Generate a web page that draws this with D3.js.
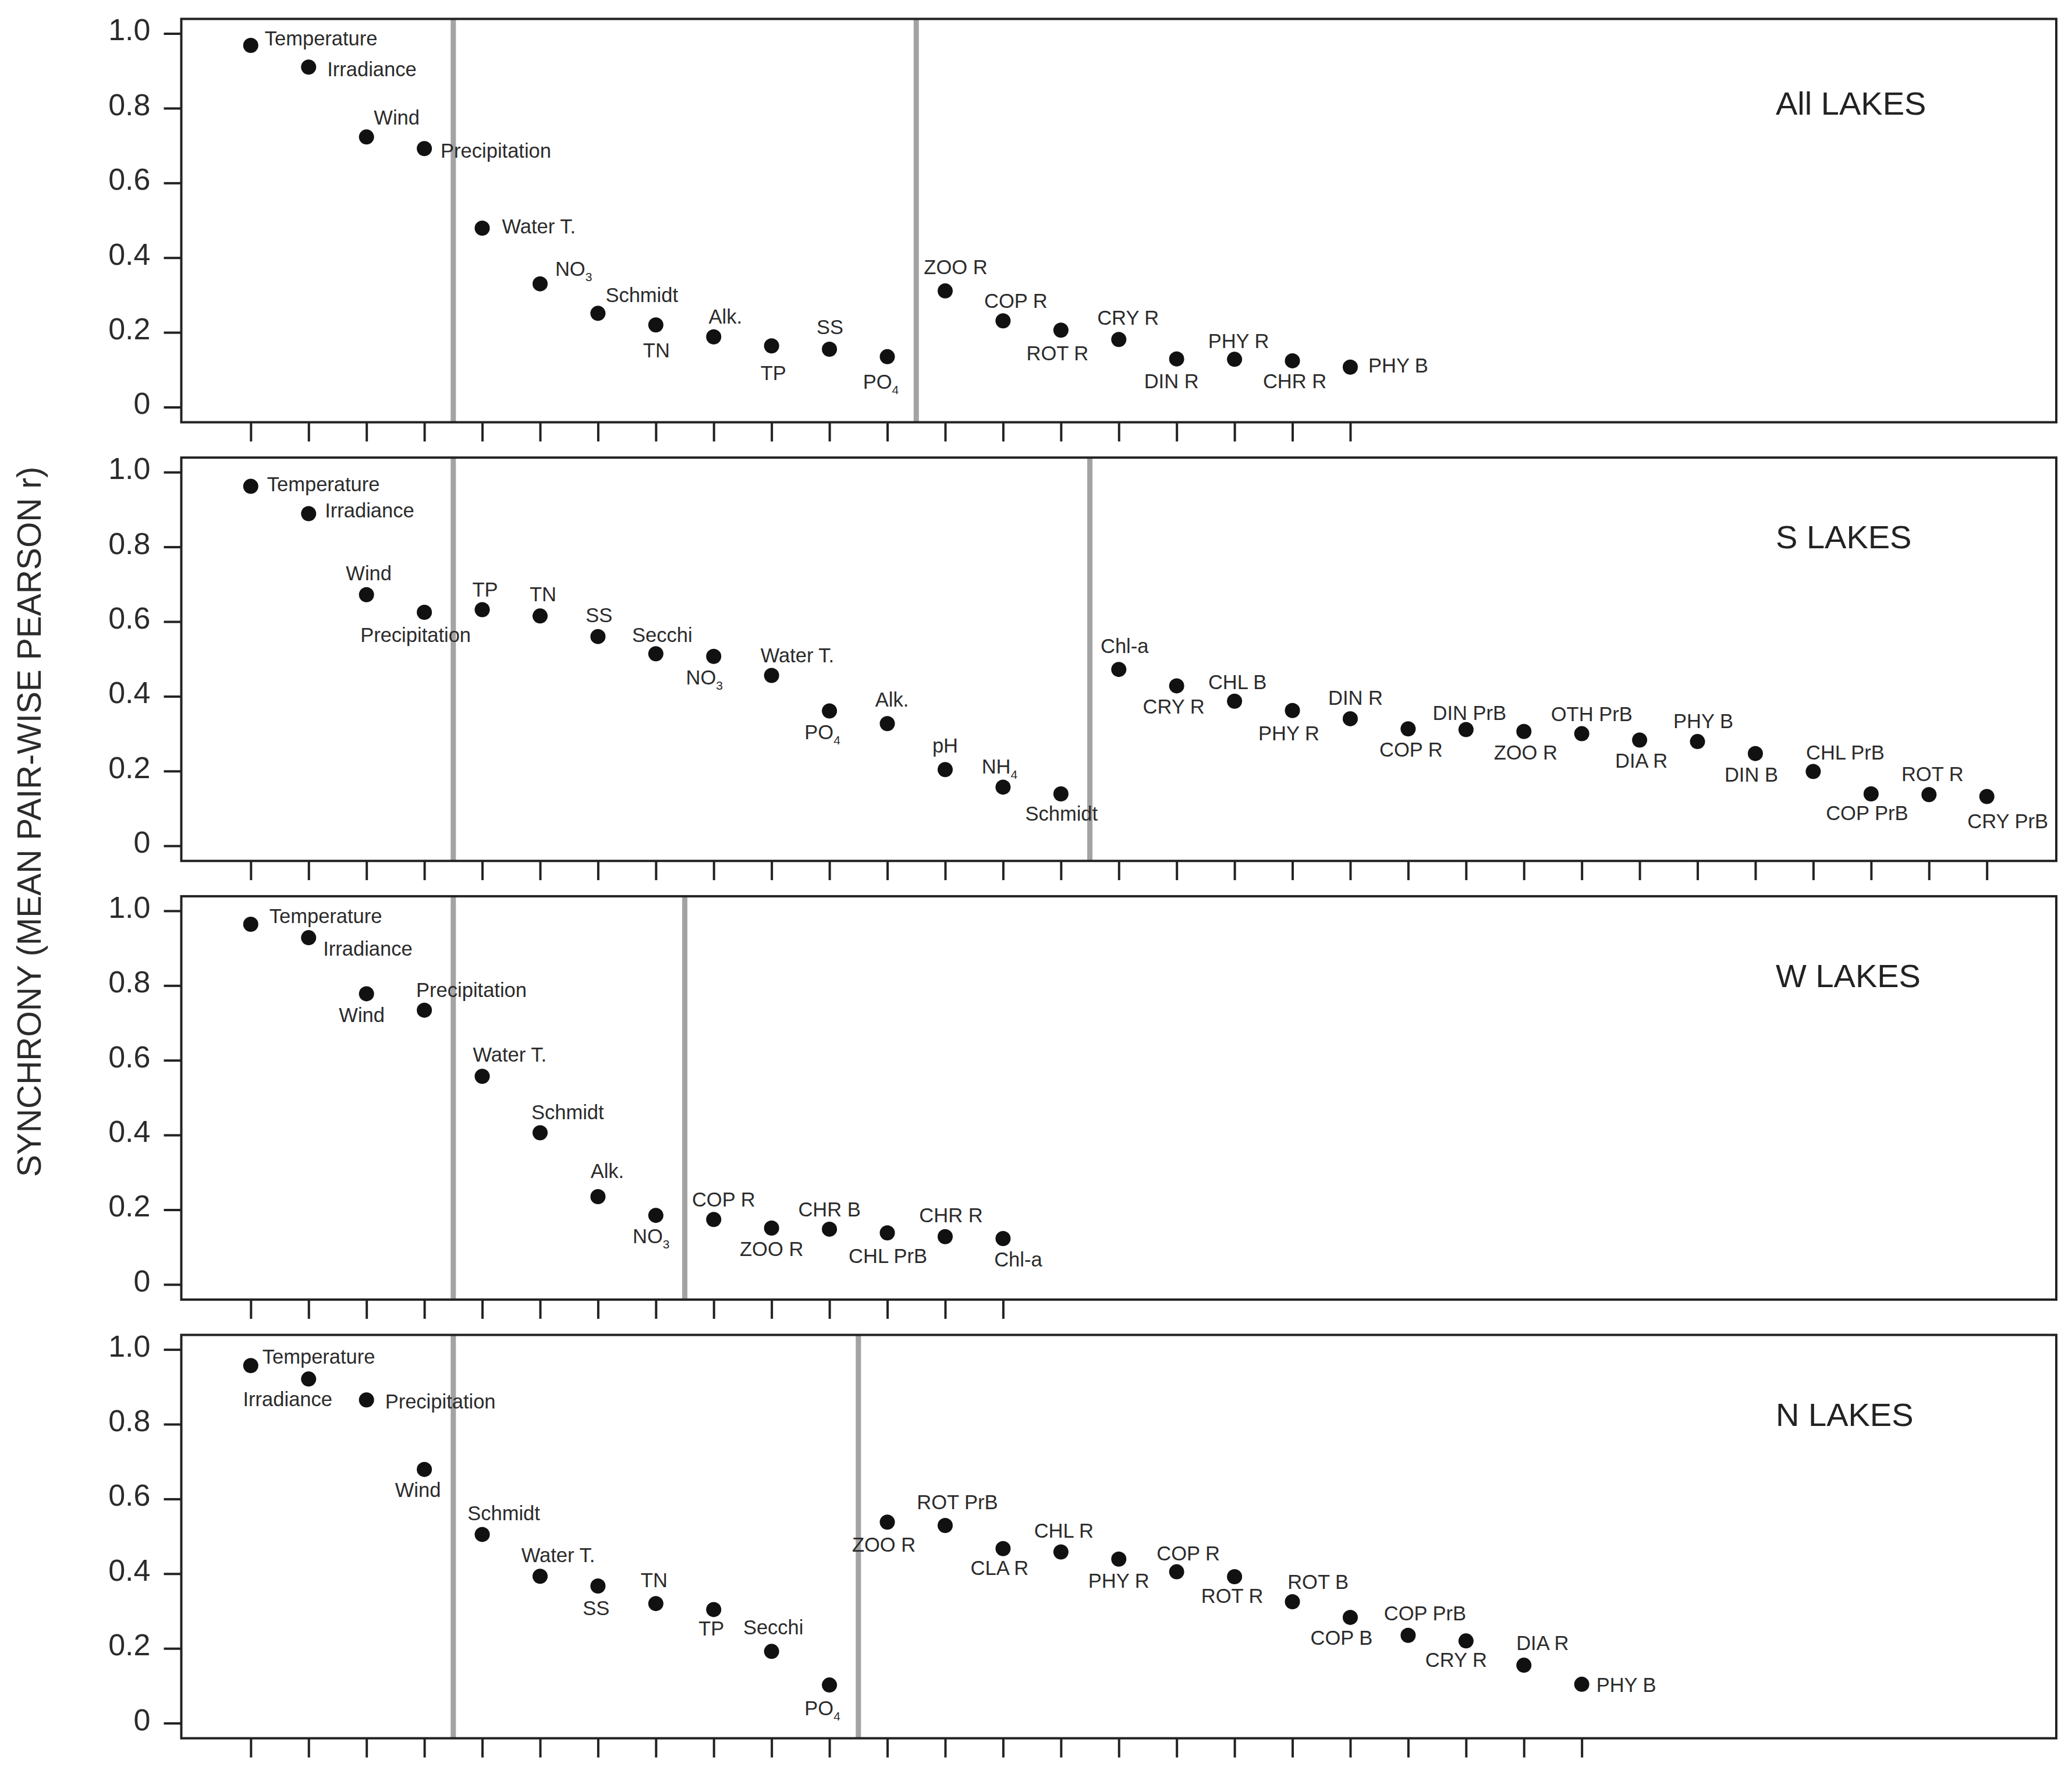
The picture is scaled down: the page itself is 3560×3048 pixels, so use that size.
<!DOCTYPE html>
<html>
<head>
<meta charset="utf-8">
<script src="https://cdn.jsdelivr.net/npm/d3@7"></script>
<style>
  body { margin: 0; background: #fff; }
  svg { display: block; }
  .ptlabel { font-family: "Liberation Sans", Arial, sans-serif; font-size: 34.5px; fill: #2b2b2b; }
  .ytick text { font-family: "Liberation Sans", Arial, sans-serif; font-size: 52px; fill: #2b2b2b; }
  .title { font-family: "Liberation Sans", Arial, sans-serif; font-size: 56px; fill: #222; }
</style>
</head>
<body>
<svg id="chart" width="3560" height="3048"></svg>
<script>
// ---- data ----
var allNames = ["Temperature", "Irradiance", "Wind", "Precipitation", "Water T.", "NO3", "Schmidt", "TN",
    "Alk.", "TP", "SS", "PO4", "ZOO R", "COP R", "ROT R", "CRY R", "DIN R", "PHY R", "CHR R", "PHY B"];
var allValues = [0.968, 0.910, 0.723, 0.692, 0.479, 0.330, 0.251, 0.220,
    0.188, 0.164, 0.155, 0.135, 0.311, 0.231, 0.206, 0.181, 0.129, 0.128, 0.124, 0.107];
var allGroups = [4, 8, 8];

var sNames = ["Temperature", "Irradiance", "Wind", "Precipitation", "TP", "TN", "SS", "Secchi", "NO3",
    "Water T.", "PO4", "Alk.", "pH", "NH4", "Schmidt", "Chl-a", "CRY R", "CHL B", "PHY R", "DIN R",
    "COP R", "DIN PrB", "ZOO R", "OTH PrB", "DIA R", "PHY B", "DIN B", "CHL PrB", "COP PrB", "ROT R", "CRY PrB"];
var sValues = [0.962, 0.889, 0.672, 0.625, 0.632, 0.615, 0.560, 0.514, 0.507,
    0.456, 0.361, 0.327, 0.204, 0.157, 0.139, 0.472, 0.428, 0.387, 0.362, 0.340,
    0.313, 0.311, 0.306, 0.300, 0.283, 0.279, 0.247, 0.199, 0.139, 0.137, 0.132];
var sGroups = [4, 11, 16];

var wNames = ["Temperature", "Irradiance", "Wind", "Precipitation", "Water T.", "Schmidt", "Alk.", "NO3",
    "COP R", "ZOO R", "CHR B", "CHL PrB", "CHR R", "Chl-a"];
var wValues = [0.964, 0.928, 0.778, 0.734, 0.557, 0.406, 0.235, 0.185,
    0.174, 0.151, 0.148, 0.138, 0.128, 0.123];
var wGroups = [4, 4, 6];

var nNames = ["Temperature", "Irradiance", "Precipitation", "Wind", "Schmidt", "Water T.", "SS", "TN", "TP",
    "Secchi", "PO4", "ZOO R", "ROT PrB", "CLA R", "CHL R", "PHY R", "COP R", "ROT R", "ROT B", "COP B",
    "COP PrB", "CRY R", "DIA R", "PHY B"];
var nValues = [0.957, 0.921, 0.865, 0.679, 0.505, 0.393, 0.367, 0.320, 0.304,
    0.192, 0.102, 0.538, 0.529, 0.467, 0.458, 0.439, 0.405, 0.392, 0.325, 0.283,
    0.235, 0.220, 0.155, 0.104];
var nGroups = [4, 7, 13];

var panelTitles = ["All LAKES", "S LAKES", "W LAKES", "N LAKES"];
var yTicks = [0, 0.2, 0.4, 0.6, 0.8, 1.0];
var yLabel = "SYNCHRONY (MEAN PAIR-WISE PEARSON r)";

// label placement: [dx, baseline dy, anchor] relative to the dot
var allLabelPos = [[24,0,"s"],[32,16,"s"],[52,-21,"m"],[28,16,"s"],[34,9,"s"],[26,-14,"s"],[13,-19,"s"],[1,56,"m"],
    [20,-23,"m"],[3,59,"m"],[1,-26,"m"],[-11,55,"m"],[18,-29,"m"],[22,-22,"m"],[-6,52,"m"],[16,-25,"m"],
    [-9,50,"m"],[7,-19,"m"],[4,47,"m"],[31,9,"s"]];
var sLabelPos = [[28,8,"s"],[28,7,"s"],[4,-25,"m"],[-15,51,"m"],[5,-22,"m"],[5,-25,"m"],[2,-25,"m"],[11,-20,"m"],
    [-16,48,"m"],[-19,-22,"s"],[-12,49,"m"],[8,-29,"m"],[0,-29,"m"],[-6,-23,"m"],[1,46,"m"],[10,-28,"m"],
    [-5,48,"m"],[5,-21,"m"],[-6,51,"m"],[9,-24,"m"],[5,48,"m"],[6,-17,"m"],[3,48,"m"],[17,-22,"m"],
    [3,47,"m"],[10,-23,"m"],[-7,48,"m"],[55,-20,"m"],[-7,45,"m"],[6,-23,"m"],[36,55,"m"]];
var wLabelPos = [[32,-2,"s"],[25,31,"s"],[-8,49,"m"],[-14,-23,"s"],[-16,-25,"s"],[-15,-23,"s"],[16,-32,"m"],
    [-8,48,"m"],[17,-22,"m"],[0,48,"m"],[0,-22,"m"],[1,52,"m"],[10,-25,"m"],[26,48,"m"]];
var nLabelPos = [[20,-3,"s"],[-36,47,"m"],[32,15,"s"],[-11,47,"m"],[37,-24,"m"],[31,-24,"m"],[-3,50,"m"],
    [-3,-28,"m"],[-4,45,"m"],[3,-29,"m"],[-12,52,"m"],[-6,51,"m"],[21,-28,"m"],[-6,45,"m"],[5,-25,"m"],
    [0,49,"m"],[20,-20,"m"],[-4,45,"m"],[44,-22,"m"],[-15,47,"m"],[29,-26,"m"],[-17,45,"m"],[32,-26,"m"],[25,13,"s"]];

var panels = [
    {names: allNames, values: allValues, groups: allGroups, pos: allLabelPos},
    {names: sNames, values: sValues, groups: sGroups, pos: sLabelPos},
    {names: wNames, values: wValues, groups: wGroups, pos: wLabelPos},
    {names: nNames, values: nValues, groups: nGroups, pos: nLabelPos}
];

// ---- layout ----
var svg = d3.select("#chart"),
    boxLeft = 311.5,
    boxRight = 3533,
    firstTop = 32.5,
    panelStep = 753.7,
    boxH = 693;

var xScale = d3.scaleLinear().domain([-1.2, 31.2]).range([boxLeft, boxRight]);
var yScale = d3.scaleLinear().domain([0, 1]).range([667, 25]);

function addLabel(g, name, x, y, p) {
    var t = g.append("text")
        .attr("class", "ptlabel")
        .attr("x", x + p[0])
        .attr("y", y + p[1])
        .attr("text-anchor", p[2] == "s" ? "start" : "middle");
    var m = name.match(/^(NO|PO|NH)(\d)$/);
    if (m) {
        t.append("tspan").text(m[1]);
        t.append("tspan").attr("dy", 9).style("font-size", "21px").text(m[2]);
    } else {
        t.text(name);
    }
}

panels.forEach(function(d, p) {
    var g = svg.append("g")
        .attr("transform", "translate(0," + (firstTop + p * panelStep) + ")");

    // group separators (gray lines)
    var b1 = d.groups[0] - 0.5,
        b2 = d.groups[0] + d.groups[1] - 0.5;
    g.selectAll(".sep")
        .data([b1, b2])
        .enter().append("line")
        .attr("x1", function(v) { return xScale(v); })
        .attr("x2", function(v) { return xScale(v); })
        .attr("y1", 0)
        .attr("y2", boxH)
        .attr("stroke", "#a3a3a3")
        .attr("stroke-width", 9);

    // frame
    g.append("rect")
        .attr("x", boxLeft)
        .attr("y", 0)
        .attr("width", boxRight - boxLeft)
        .attr("height", boxH)
        .attr("fill", "none")
        .attr("stroke", "#222")
        .attr("stroke-width", 4);

    // y axis
    var ya = g.append("g")
        .attr("class", "ytick")
        .attr("transform", "translate(" + boxLeft + ",0)")
        .call(d3.axisLeft(yScale).tickValues(yTicks).tickSize(30).tickPadding(23)
            .tickFormat(function(v) { return v === 0 ? "0" : v.toFixed(1); }));
    ya.select(".domain").remove();
    ya.selectAll("line").attr("stroke", "#222").attr("stroke-width", 4);
    ya.selectAll("text").attr("dy", "0.22em");

    // bottom ticks, one per variable
    var idx = d3.range(d.values.length);
    var xa = g.append("g")
        .attr("transform", "translate(0," + boxH + ")")
        .call(d3.axisBottom(xScale).tickValues(idx).tickSize(33).tickFormat(""));
    xa.select(".domain").remove();
    xa.selectAll("line").attr("stroke", "#222").attr("stroke-width", 4);

    // dots
    g.selectAll(".dot")
        .data(d.values)
        .enter().append("circle")
        .attr("cx", function(v, i) { return xScale(i); })
        .attr("cy", function(v) { return yScale(v); })
        .attr("r", 13)
        .attr("fill", "#111");

    // labels
    d.values.forEach(function(v, i) {
        addLabel(g, d.names[i], xScale(i), yScale(v), d.pos[i]);
    });

    // panel title
    g.append("text")
        .attr("class", "title")
        .attr("x", 3051)
        .attr("y", p == 0 ? 164 : 156)
        .text(panelTitles[p]);
});

svg.append("text")
    .attr("transform", "translate(70,1412) rotate(-90)")
    .attr("text-anchor", "middle")
    .style("font-family", "Liberation Sans, Arial, sans-serif")
    .style("font-size", "57px")
    .style("fill", "#2b2b2b")
    .text(yLabel);
</script>
</body>
</html>
